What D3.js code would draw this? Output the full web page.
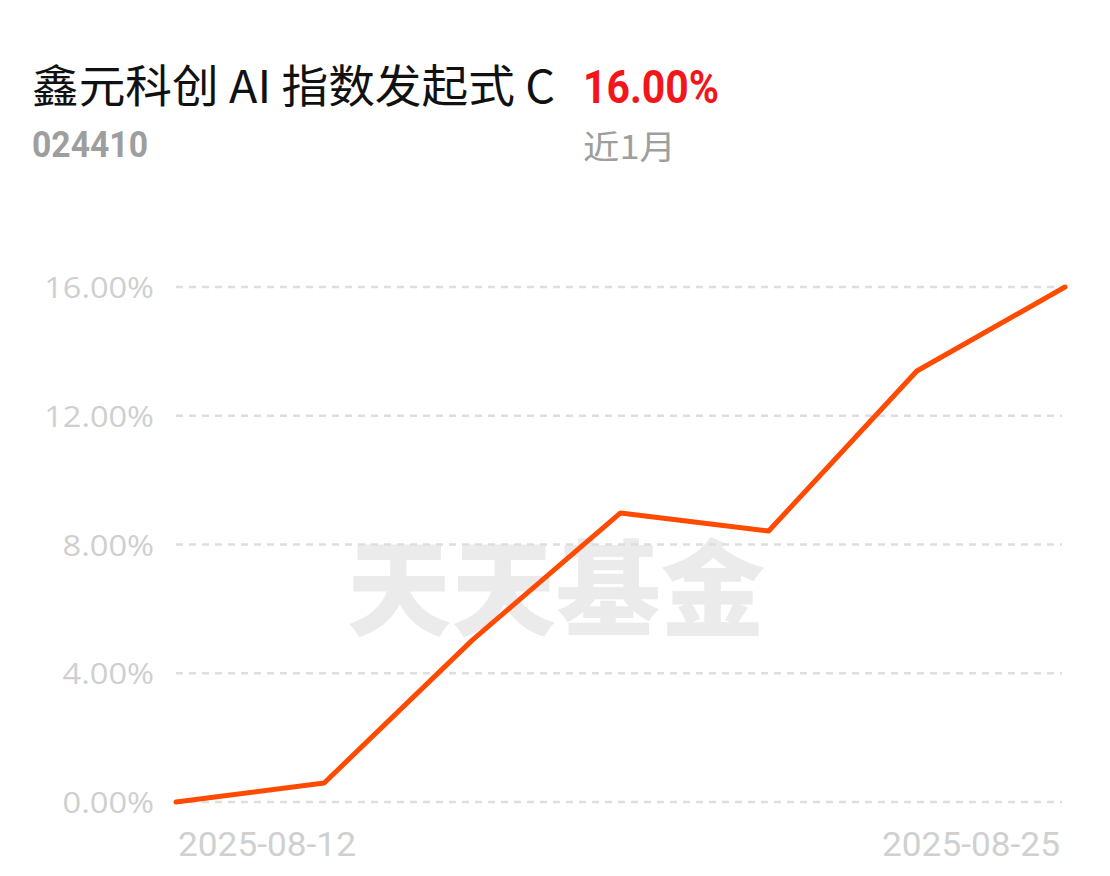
<!DOCTYPE html>
<html><head><meta charset="utf-8">
<script src="https://cdn.jsdelivr.net/npm/d3@7"></script>
<style>body{margin:0;background:#fff;}svg{display:block;}</style>
</head><body>
<script>
const dates = ["2025-08-12","2025-08-13","2025-08-14","2025-08-15","2025-08-18","2025-08-22","2025-08-25"];
const returns = [0.00, 0.59, 5.03, 8.98, 8.42, 13.39, 16.00];
const yTicks = [0, 4, 8, 12, 16];
const titleParts = ["鑫元科创", "AI", "指数发起式", "C"];
const code = "024410";
const headline = "16.00%";
const period = "近1月";
const watermark = "天天基金";

const W = 1110, H = 876;
const svg = d3.select("body").append("svg").attr("width", W).attr("height", H);

const x = d3.scalePoint().domain(dates).range([176, 1065]);
const y = d3.scaleLinear().domain([0, 16]).range([802, 287]);

// header
const t = svg.append("text").attr("x", 32).attr("y", 103).attr("font-family", "Noto Sans CJK SC")
  .attr("font-size", 45).attr("fill", "#111").attr("textLength", 523).attr("lengthAdjust", "spacingAndGlyphs");
t.text(titleParts.join(" "));
svg.append("text").attr("x", 583).attr("y", 103).attr("font-family", "Roboto").attr("font-weight", 700)
  .attr("font-size", 46).attr("fill", "#f2161b").attr("textLength", 136).attr("lengthAdjust", "spacingAndGlyphs").text(headline);
svg.append("text").attr("x", 32).attr("y", 157).attr("font-family", "Roboto").attr("font-weight", 700)
  .attr("font-size", 37).attr("fill", "#9e9e9e").attr("textLength", 116).attr("lengthAdjust", "spacingAndGlyphs").text(code);
svg.append("text").attr("x", 583).attr("y", 159).attr("font-family", "Noto Sans CJK SC")
  .attr("font-size", 33).attr("fill", "#9e9e9e").attr("textLength", 93).attr("lengthAdjust", "spacingAndGlyphs").text(period);

// watermark
svg.append("text").attr("x", 347).attr("y", 628).attr("font-family", "Noto Sans CJK SC").attr("font-weight", 900)
  .attr("font-size", 104).attr("fill", "#ebebeb").attr("textLength", 418).attr("lengthAdjust", "spacingAndGlyphs").text(watermark);

// y axis labels
const fmt = d => d3.format(".2f")(d) + "%";
const yAxis = d3.axisLeft(y).tickValues(yTicks).tickFormat(fmt).tickSize(0).tickPadding(0);
const gAxis = svg.append("g").attr("transform", "translate(154,0)").call(yAxis);
gAxis.select(".domain").remove();
gAxis.selectAll("text").attr("font-family", "'Open Sans', sans-serif").attr("font-size", 30)
  .attr("fill", "#cfcfcf").attr("dy", "0.35em")
  .attr("textLength", d => fmt(d).length * 18.3).attr("lengthAdjust", "spacingAndGlyphs");

// grid
svg.append("g").selectAll("line").data(yTicks).join("line")
  .attr("x1", 176).attr("x2", 1062).attr("y1", d => y(d)).attr("y2", d => y(d))
  .attr("stroke", "#dedede").attr("stroke-width", 2.5).attr("stroke-dasharray", "7,6");

// x labels
const xl = [dates[0], dates[dates.length - 1]];
svg.append("g").selectAll("text").data(xl).join("text")
  .attr("x", (d, i) => i === 0 ? x(d) + 2 : x(d) - 5)
  .attr("y", 856).attr("text-anchor", (d, i) => i === 0 ? "start" : "end")
  .attr("font-family", "Roboto").attr("font-weight", 400).attr("font-size", 33).attr("fill", "#d0d0d0")
  .attr("textLength", 178).attr("lengthAdjust", "spacingAndGlyphs").text(d => d);

// line
const line = d3.line().x((d, i) => x(dates[i])).y(d => y(d));
svg.append("path").datum(returns).attr("d", line).attr("fill", "none")
  .attr("stroke", "#ff4a00").attr("stroke-width", 5).attr("stroke-linejoin", "round").attr("stroke-linecap", "round");
</script>
</body></html>
